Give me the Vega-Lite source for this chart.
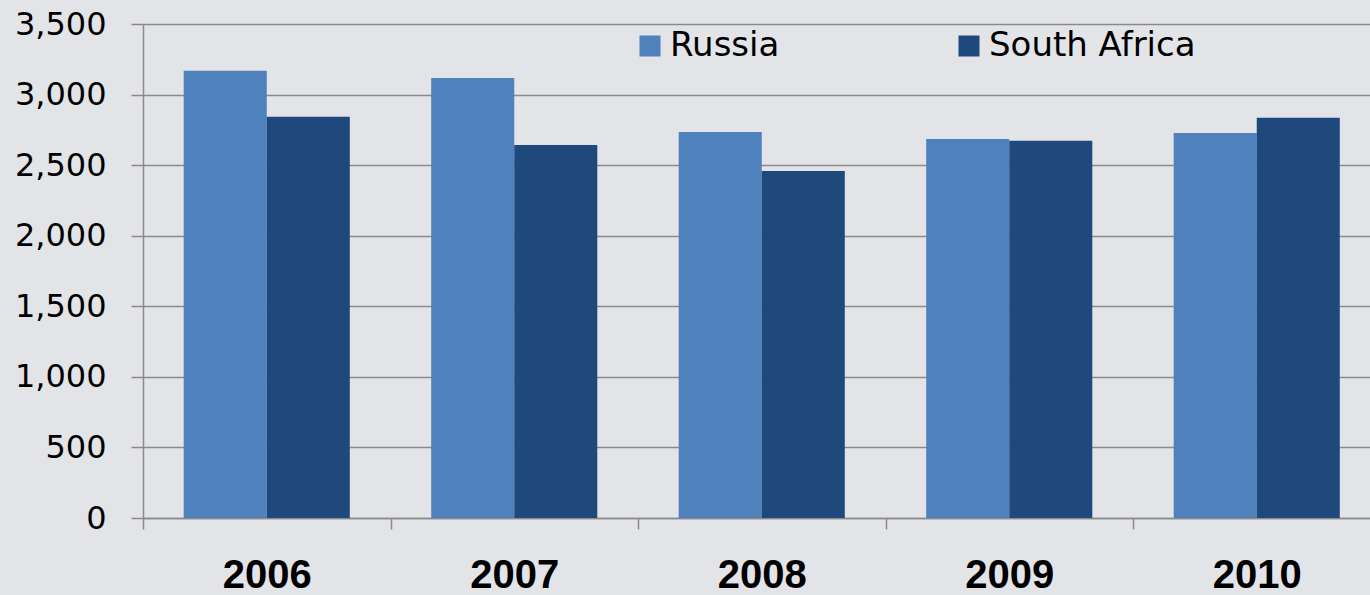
{
  "$schema": "https://vega.github.io/schema/vega-lite/v6.json",
  "width": 1227,
  "height": 494,
  "autosize": {"type": "none"},
  "padding": {"left": 143, "top": 24, "right": 0, "bottom": 77},
  "background": "#e3e4e8",
  "config": {
    "view": {"stroke": null},
    "axis": {"gridColor": "#8a8a8a", "gridWidth": 1.5, "domainColor": "#8a8a8a", "domainWidth": 1.5, "tickColor": "#8a8a8a", "tickWidth": 1.5}
  },
  "data": {
    "values": [
      {"year": "2006", "country": "Russia", "value": 3168},
      {"year": "2006", "country": "South Africa", "value": 2842},
      {"year": "2007", "country": "Russia", "value": 3118},
      {"year": "2007", "country": "South Africa", "value": 2643},
      {"year": "2008", "country": "Russia", "value": 2735},
      {"year": "2008", "country": "South Africa", "value": 2459},
      {"year": "2009", "country": "Russia", "value": 2686},
      {"year": "2009", "country": "South Africa", "value": 2672},
      {"year": "2010", "country": "Russia", "value": 2728},
      {"year": "2010", "country": "South Africa", "value": 2835}
    ]
  },
  "mark": {"type": "bar"},
  "encoding": {
    "x": {
      "field": "year", "type": "nominal", "title": null,
      "scale": {"range": [0, 1237.5], "paddingInner": 0, "paddingOuter": 0},
      "axis": {"labelAngle": 0, "tickBand": "extent", "tickSize": 11, "labelFont": "Liberation Sans", "labelFontWeight": "bold", "labelFontSize": 40, "labelColor": "#000000", "labelPadding": 26, "grid": false}
    },
    "xOffset": {"field": "country", "type": "nominal", "scale": {"paddingInner": 0, "paddingOuter": 0.49}},
    "y": {
      "field": "value", "type": "quantitative", "title": null,
      "scale": {"domain": [0, 3500], "nice": false},
      "axis": {"values": [0, 500, 1000, 1500, 2000, 2500, 3000, 3500], "format": ",d", "tickSize": 12, "labelFont": "DejaVu Sans", "labelFontSize": 32, "labelColor": "#000000", "labelPadding": 25, "grid": true}
    },
    "color": {
      "field": "country", "type": "nominal", "title": null,
      "scale": {"domain": ["Russia", "South Africa"], "range": ["#4F81BD", "#1F497D"]},
      "legend": {"orient": "none", "legendX": 490, "legendY": 5, "direction": "horizontal", "symbolType": "square", "symbolSize": 441, "symbolStrokeWidth": 0, "labelFont": "DejaVu Sans", "labelFontSize": 34, "labelColor": "#000000", "labelOffset": 3, "columnPadding": 172, "labelLimit": 400}
    }
  }
}
